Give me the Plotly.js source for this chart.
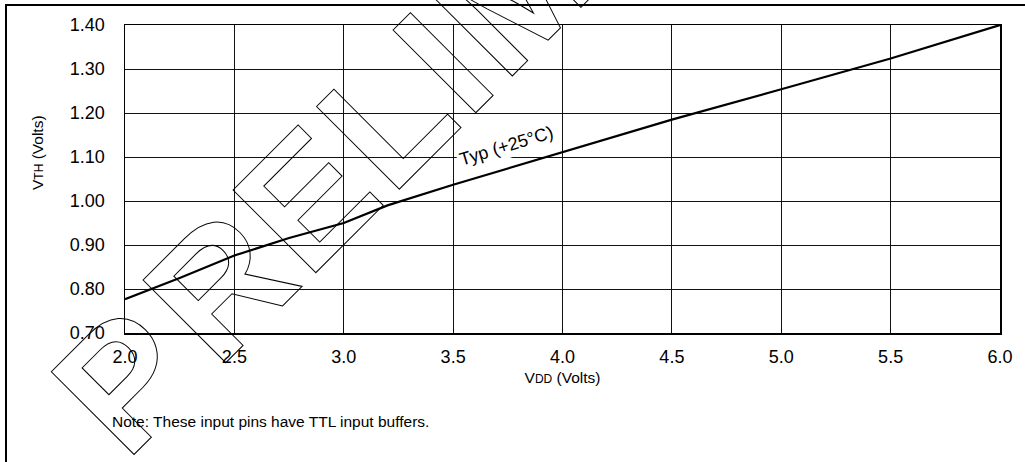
<!DOCTYPE html>
<html>
<head>
<meta charset="utf-8">
<script src="https://cdn.plot.ly/plotly-3.0.1.min.js"></script>
<style>html,body{margin:0;padding:0;background:#fff;}#chart{width:1025px;height:462px;}</style>
</head>
<body>
<div id="chart"></div>
<script>
// ---- data ----
const vdd = [2.0, 2.25, 2.5, 2.75, 3.0, 3.2, 3.5, 4.0, 4.5, 5.0, 5.5, 6.0];
const vth = [0.777, 0.825, 0.876, 0.916, 0.950, 0.990, 1.037, 1.111, 1.185, 1.254, 1.324, 1.400];
const seriesLabel = 'Typ (+25°C)';
const xTicks = [2.0, 2.5, 3.0, 3.5, 4.0, 4.5, 5.0, 5.5, 6.0];
const yTicks = [0.70, 0.80, 0.90, 1.00, 1.10, 1.20, 1.30, 1.40];
const xTitle = 'V<span style="font-size:12px">DD</span> (Volts)';
const yTitle = 'V<span style="font-size:12px">TH</span> (Volts)';
const noteText = 'Note: These input pins have TTL input buffers.';
const watermark = 'PRELIMINARY';

// ---- layout geometry (pixels) ----
const W = 1025, H = 462;
const L = 125, R = 25, T = 25, B = 129;
const pw = W - L - R, ph = H - T - B;
const px = x => (x - L) / pw;           // pixel -> paper x
const py = y => 1 - (y - T) / ph;       // pixel -> paper y
const FONT = 'Liberation Sans, Arial, sans-serif';

const trace = {
  x: vdd, y: vth, type: 'scatter', mode: 'lines',
  line: {color: '#000', width: 2.2}, hoverinfo: 'skip', showlegend: false
};

const layout = {
  width: W, height: H,
  margin: {l: L, r: R, t: T, b: B, pad: 0},
  paper_bgcolor: '#fff', plot_bgcolor: '#fff',
  font: {family: FONT, color: '#000', size: 18},
  showlegend: false,
  xaxis: {
    range: [2, 6], tickvals: xTicks, ticktext: xTicks.map(v => v.toFixed(1)),
    showgrid: true, gridcolor: '#111', gridwidth: 1,
    showline: true, linecolor: '#000', linewidth: 1.5, mirror: true,
    ticks: '', ticklabelstandoff: 7, zeroline: false,
    tickfont: {size: 18, family: FONT, color: '#000'},
    title: {text: xTitle, font: {size: 15.5, family: FONT, color: '#000'}, standoff: 6}
  },
  yaxis: {
    range: [0.70, 1.40], tickvals: yTicks, ticktext: yTicks.map(v => v.toFixed(2)),
    showgrid: true, gridcolor: '#111', gridwidth: 1,
    showline: true, linecolor: '#000', linewidth: 1.5, mirror: true,
    ticks: '', ticklabelstandoff: 15, zeroline: false,
    tickfont: {size: 18, family: FONT, color: '#000'}
  },
  shapes: [
    {type: 'rect', xref: 'paper', yref: 'paper',
     x0: px(6), x1: px(1040), y0: py(480), y1: py(5),
     line: {color: '#000', width: 2}, fillcolor: 'rgba(0,0,0,0)', layer: 'above'}
  ],
  annotations: [
    {xref: 'paper', yref: 'paper', x: px(506), y: py(146), text: seriesLabel,
     showarrow: false, textangle: -17, bgcolor: '#fff', borderpad: 2,
     font: {size: 18, family: FONT, color: '#000'}, xanchor: 'center', yanchor: 'middle'},
    {xref: 'paper', yref: 'paper', x: px(110), y: py(422), text: noteText,
     showarrow: false, xanchor: 'left', yanchor: 'middle',
     font: {size: 15.5, family: FONT, color: '#000'}},
    {xref: 'paper', yref: 'paper', x: px(526), y: py(-21), text: watermark,
     showarrow: false, textangle: -45, xanchor: 'center', yanchor: 'middle',
     font: {size: 170, family: FONT, weight: 700, color: 'rgba(0,0,0,0)'}},
    {xref: 'paper', yref: 'paper', x: px(37), y: py(153), text: yTitle,
     showarrow: false, textangle: -90, xanchor: 'center', yanchor: 'middle',
     font: {size: 15.5, family: FONT, color: '#000'}}
  ]
};

Plotly.newPlot('chart', [trace], layout, {staticPlot: true, displayModeBar: false}).then(gd => {
  const wm = gd.querySelector('.annotation[data-index="2"] .annotation-text');
  if (wm) {
    wm.style.setProperty('fill', 'none');
    wm.style.setProperty('stroke', '#000');
    wm.style.setProperty('stroke-width', '1px');
    wm.style.setProperty('stroke-linejoin', 'miter');
    wm.style.setProperty('letter-spacing', '4.5px');
    wm.setAttribute('dx', '-12 12');
  }
});
</script>
</body>
</html>
